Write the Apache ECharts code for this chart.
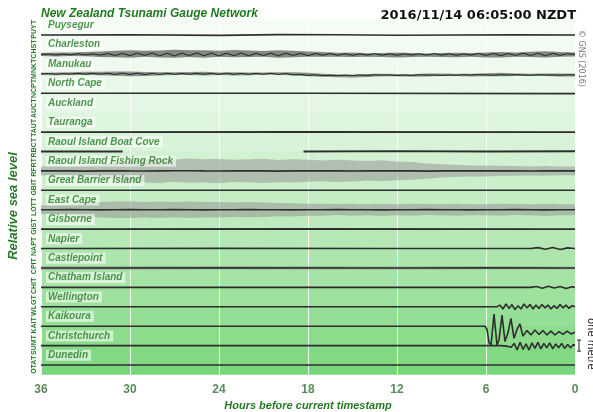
<!DOCTYPE html>
<html><head><meta charset="utf-8">
<script src="https://cdn.jsdelivr.net/npm/echarts/dist/echarts.min.js"></script>
<style>html,body{margin:0;padding:0;background:#fff}#c{width:593px;height:412px}</style>
</head><body><div id="c"></div>
<script>
// ---------- data ----------
const stations = ['Puysegur','Charleston','Manukau','North Cape','Auckland','Tauranga','Raoul Island Boat Cove','Raoul Island Fishing Rock','Great Barrier Island','East Cape','Gisborne','Napier','Castlepoint','Chatham Island','Wellington','Kaikoura','Christchurch','Dunedin'];
const codes = ['PUYT','CHST','MNKT','NCPT','AUCT','TAUT','RBCT','RFRT','GBIT','LOTT','GIST','NAPT','CPIT','CHIT','WLGT','KAIT','SUMT','OTAT'];
const xTicks = [36, 30, 24, 18, 12, 6, 0];
const hourly = [36,35,34,33,32,31,30,29,28,27,26,25,24,23,22,21,20,19,18,17,16,15,14,13,12,11,10,9,8,7,6,5,4,3,2,1,0];

// sea level in cm, hours before timestamp
const puyH = [36, 30, 24, 20, 16, 12, 8, 4, 0];
const puyV = [0, 2, -3, 4, 3, -2, 0, 3, 0];
// Charleston: half-hourly trace + hourly envelope
const chsTrace = [0,4,-5,3,-4,6,-4,5,-6,8, -9,10,-11,12,-9,13,-12,11,-14,12, -11,14,-12,13,-15,12,-11,14,-13,11, -10,12,-13,11,-9,10,-11,8,-7,9, -8,7,-8,7,-6,8,-7,6,-7,6, -6,7,-6,8,-7,7,-8,6,-7,9, -8,10,-11,9,-10,12,-10,11,-12,10, -8,7,0];
const chsV = [0,0,2,3,2,4,5,6,4,6,7,5,6,8,6,5,4,4,2,0,-2,-3,-5,-6,-5,-6,-7,-6,-5,-4,-5,-3,-2,0,1,0,0];
const chsW = [14,18,16,20,25,30,34,28,32,36,30,34,28,33,30,26,34,30,24,22,18,20,16,18,22,18,15,18,20,16,22,25,20,24,28,22,18];
// Manukau
const mnkTrace = [0,3,-4,2,-3,4,-4,5,-4,5, -6,7,-6,6,-7,5,-5,6,-5,4, -5,5,-4,5,-5,6,-5,4,-5,5, -4,5,-6,3,-9,-5,-14,-9,-17,-12, -16,-11,-15,-10,-14,-8,-12,-10,-15,-11, -14,-8,-12,-10,-15,-11,-14,-8,-11,-7, -10,-13,-8,-11,-7,-10,-13,-8,-11,-10, -13,-8,-10];
const mnkV = [0,0,2,4,3,2,0,-2,0,2,3,2,1,0,0,2,3,0,-5,-12,-18,-20,-15,-10,-12,-15,-10,-8,-10,-12,-8,-5,-8,-10,-8,-10,-12];
const mnkW = [10,12,12,14,16,20,22,18,14,12,14,16,12,14,12,10,12,14,16,14,12,12,14,12,10,12,14,12,10,12,14,16,12,10,12,14,12];
const ncpH = [36, 18, 0];
const ncpV = [0, 0, -3];
const tauH = [36, 18, 0];
const tauV = [0, 2, 0];
const rbcH = [36, 33, 30.5, 30.4, 18.3, 12, 6, 0];
const rbcV = [0, 0, 0, null, 0, 3, 0, 2];
const rfrV = [0,1,0,-2,0,2,0,-1,0,1,2,0,-1,0,1,0,-2,0,1,0,0,-1,0,1,0,0,-2,0,1,0,0,1,0,-1,0,0,0];
const rfrW = [40,45,40,50,55,75,95,105,110,100,110,105,110,100,105,110,100,105,100,95,100,95,90,95,85,80,70,60,55,50,50,45,45,40,45,40,40];
const gbiH = [36, 18, 0];
const gbiV = [0, 0, 0];
const lotV = [0,0,1,0,-1,0,1,0,0,1,0,-1,0,0,1,0,0,-1,0,0,1,0,0,-1,0,0,1,0,0,-1,0,0,1,0,-1,0,0];
const lotW = [40,40,45,60,70,75,75,70,75,70,75,70,70,65,70,65,60,60,55,55,50,55,50,55,50,55,50,50,55,50,50,55,50,50,55,50,50];
const gisH = [36, 18, 0];
const gisV = [0, 2, 0];
const napH = [36, 24, 12, 3, 2.5, 2, 1.5, 1, 0.5, 0];
const napV = [0, 2, 0, 0, 8, -6, 10, -8, 6, 0];
const cpiH = [36, 24, 12, 6, 0];
const cpiV = [0, 2, 0, 2, 0];
const cpiW = [18, 18, 16, 16, 14];
const chiH = [36, 18, 3.0, 2.6, 2.2, 1.8, 1.4, 1.0, 0.6, 0.2, 0];
const chiV = [0, 0, 0, 8, -8, 10, -6, 8, -10, 6, 0];
const wlgH = [36,18,5.26,5.06,4.86,4.65,4.45,4.25,4.05,3.84,3.64,3.44,3.24,3.03,2.83,2.63,2.43,2.23,2.02,1.82,1.62,1.42,1.21,1.01,0.81,0.61,0.40,0.20,0];
const wlgV = [0,0,0,15,-20,25,-15,20,-25,10,-20,25,-10,20,-20,15,-15,20,-10,15,-20,10,-15,20,-10,15,-15,10,0];
const kaiH = [36,20,6.07,5.93,5.80,5.66,5.46,5.26,5.12,4.92,4.72,4.52,4.32,4.11,3.91,3.71,3.51,3.24,2.97,2.70,2.43,2.16,1.89,1.62,1.35,1.08,0.81,0.54,0.27,0];
const kaiV = [0,0,0,-30,-150,-170,110,-170,-120,100,-140,-60,70,-110,-30,20,-90,-40,-80,-35,-75,-40,-80,-45,-80,-50,-75,-45,-70,-55];
const sumH = [36,18,5.0,4.6,4.3,4.1,3.9,3.7,3.5,3.3,3.1,2.9,2.7,2.5,2.3,2.1,1.9,1.7,1.5,1.3,1.1,0.9,0.7,0.5,0.3,0.1,0];
const sumV = [0,0,0,-5,-15,20,-40,30,-35,15,-40,25,-25,30,-30,20,-20,25,-30,15,-20,20,-25,10,-20,10,0];
const otaH = [36, 18, 0];
const otaV = [0, 0, 0];

// ---------- helpers ----------
const CM_PER_BAND = 176;
const halfHourly = Array.from({length: 73}, (_, i) => 36 - i * 0.5);
const base = name => 17 - stations.indexOf(name);
const pts = (h, v, name) => h.map((x, i) => [x, v[i] == null ? '-' : base(name) + v[i] / CM_PER_BAND]);
const LINE = '#2e2e2e';
function lineSeries(name, h, v, w, color) {
  return {type: 'line', name, data: pts(h, v, name), showSymbol: false, symbol: 'none',
    lineStyle: {color: color || LINE, width: w || 1.6}, z: 5, silent: true, animation: false};
}
function bandSeries(name, h, v, wid, fill) {
  const b = base(name);
  return {type: 'custom', name: name + ' band', silent: true, animation: false, z: 3,
    data: [[h[0], b]],
    renderItem: (params, api) => {
      const up = h.map((x, i) => api.coord([x, b + (v[i] + wid[i]) / CM_PER_BAND]));
      const dn = h.map((x, i) => api.coord([x, b + (v[i] - wid[i]) / CM_PER_BAND])).reverse();
      return {type: 'polygon', shape: {points: up.concat(dn)}, style: {fill}};
    }};
}

// stepped background
const YMIN = -0.5, YMAX = 17.8;
const stops = [];
const bounds = [YMAX]; for (let k = 17; k >= 0; k--) bounds.push(k); bounds.push(YMIN);
for (let j = 0; j < bounds.length - 1; j++) {
  const t = Math.pow(j / (bounds.length - 2), 1.35);
  const r = Math.round(244 - t * (244 - 122)), g = Math.round(252 - t * (252 - 214)), bl = Math.round(244 - t * (244 - 122));
  const c = `rgb(${r},${g},${bl})`;
  stops.push({offset: (YMAX - bounds[j]) / (YMAX - YMIN), color: c});
  stops.push({offset: (YMAX - bounds[j + 1]) / (YMAX - YMIN), color: c});
}

const GREEN = '#237a23';
const series = [
  bandSeries('Charleston', hourly, chsV, chsW, 'rgba(40,40,40,0.55)'),
  bandSeries('Manukau', hourly, mnkV, mnkW, 'rgba(40,40,40,0.5)'),
  bandSeries('Raoul Island Fishing Rock', hourly, rfrV, rfrW, 'rgba(150,150,150,0.55)'),
  bandSeries('East Cape', hourly, lotV, lotW, 'rgba(150,150,150,0.55)'),
  bandSeries('Castlepoint', cpiH, cpiV, cpiW, 'rgba(140,140,140,0.45)'),
  lineSeries('Puysegur', puyH, puyV),
  lineSeries('Charleston', halfHourly, chsTrace, 1, '#222'),
  lineSeries('Manukau', halfHourly, mnkTrace, 1, '#222'),
  lineSeries('North Cape', ncpH, ncpV),
  lineSeries('Tauranga', tauH, tauV),
  lineSeries('Raoul Island Boat Cove', rbcH, rbcV, 1.8),
  lineSeries('Raoul Island Fishing Rock', hourly, rfrV),
  lineSeries('Great Barrier Island', gbiH, gbiV),
  lineSeries('East Cape', hourly, lotV),
  lineSeries('Gisborne', gisH, gisV),
  lineSeries('Napier', napH, napV),
  lineSeries('Castlepoint', cpiH, cpiV),
  lineSeries('Chatham Island', chiH, chiV),
  lineSeries('Wellington', wlgH, wlgV),
  lineSeries('Kaikoura', kaiH, kaiV),
  lineSeries('Christchurch', sumH, sumV),
  lineSeries('Dunedin', otaH, otaV),
  {type: 'scatter', symbolSize: 0, z: 10, silent: true, animation: false,
   data: stations.map((s, i) => [36, 17 - i + 0.5, s]),
   label: {show: true, position: 'right', distance: 5, formatter: p => p.data[2],
     color: GREEN, fontSize: 10, fontWeight: 'bold', fontStyle: 'italic', fontFamily: 'Liberation Sans',
     backgroundColor: 'rgba(255,255,255,0.72)', padding: [1, 3, 0, 2]}}
];

const chart = echarts.init(document.getElementById('c'), null, {renderer: 'canvas'});
chart.setOption({
  animation: false,
  grid: {left: 41, right: 18, top: 19.5, bottom: 37.3, show: true, borderWidth: 0, outerBoundsMode: 'none', containLabel: false,
    backgroundColor: new echarts.graphic.LinearGradient(0, 0, 0, 1, stops)},
  xAxis: {type: 'value', min: 0, max: 36, interval: 6, inverse: true,
    axisLine: {show: false}, axisTick: {show: false},
    splitLine: {show: true, lineStyle: {color: 'rgba(255,255,255,0.85)', width: 1}},
    axisLabel: {color: '#5b8a5b', fontWeight: 'bold', fontSize: 12, margin: 9, fontFamily: 'Liberation Sans',
      formatter: v => xTicks.includes(v) ? String(v) : ''},
    name: 'Hours before current timestamp', nameLocation: 'middle', nameGap: 25,
    nameTextStyle: {color: GREEN, fontWeight: 'bold', fontStyle: 'italic', fontSize: 11, fontFamily: 'Liberation Sans'}},
  yAxis: [
    {type: 'value', min: YMIN, max: YMAX, axisLine: {show: false}, axisTick: {show: false},
     axisLabel: {show: false}, splitLine: {show: false}},
    {type: 'category', data: codes.slice().reverse(), position: 'left', axisLine: {show: false}, axisTick: {show: false},
     axisLabel: {rotate: 90, fontSize: 7, fontWeight: 'bold', color: GREEN, margin: 3, fontFamily: 'Liberation Sans', interval: 0},
     splitLine: {show: false}}
  ],
  series
});

// annotations (scale bar positioned via the axis scale: 1 metre)
const top1 = chart.convertToPixel({gridIndex: 0}, [0, 1 + 50 / CM_PER_BAND]);
const bot1 = chart.convertToPixel({gridIndex: 0}, [0, 1 - 50 / CM_PER_BAND]);
const bx = top1[0] + 4;
chart.setOption({graphic: [
  {type: 'text', left: 41, top: 8, style: {text: 'New Zealand Tsunami Gauge Network', font: 'italic bold 12px "Liberation Sans"', fill: '#1e7a1e'}},
  {type: 'text', right: 17, top: 9, style: {text: '2016/11/14 06:05:00 NZDT', font: 'bold 13px "DejaVu Sans"', fill: '#111'}},
  {type: 'text', x: 13, y: 206, rotation: Math.PI / 2, style: {text: 'Relative sea level', font: 'italic bold 13px "Liberation Sans"', fill: GREEN, textAlign: 'center', textVerticalAlign: 'middle'}},
  {type: 'text', x: 581, y: 30, rotation: -Math.PI / 2, style: {text: '© GNS (2016)', font: '8px "DejaVu Sans"', fill: '#777', textVerticalAlign: 'middle'}},
  {type: 'text', x: 591, y: 318, rotation: -Math.PI / 2, style: {text: 'one metre', font: '10px "DejaVu Sans"', fill: '#222', textVerticalAlign: 'middle'}},
  {type: 'line', shape: {x1: bx, y1: top1[1], x2: bx, y2: bot1[1]}, style: {stroke: '#222', lineWidth: 1}},
  {type: 'line', shape: {x1: bx - 2, y1: top1[1], x2: bx + 2, y2: top1[1]}, style: {stroke: '#222', lineWidth: 1}},
  {type: 'line', shape: {x1: bx - 2, y1: bot1[1], x2: bx + 2, y2: bot1[1]}, style: {stroke: '#222', lineWidth: 1}}
]});
</script></body></html>
